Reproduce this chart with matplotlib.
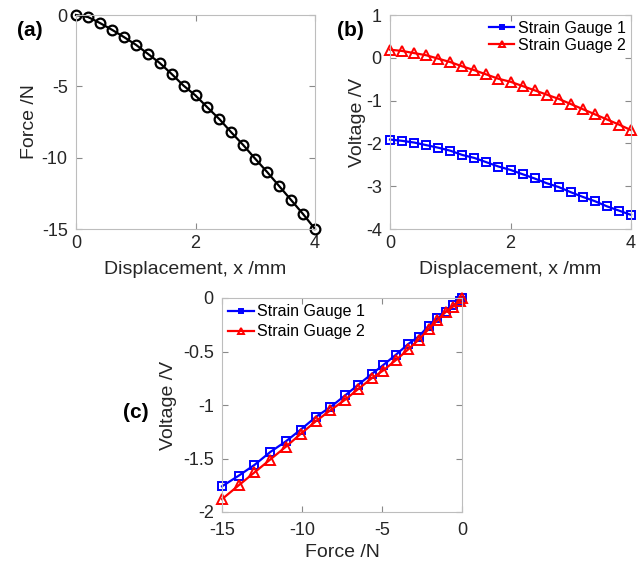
import matplotlib
matplotlib.use('Agg')
import matplotlib.pyplot as plt
import numpy as np

plt.rcParams['font.family'] = ['Liberation Sans', 'DejaVu Sans']
plt.rcParams['axes.unicode_minus'] = False

# displacement steps (mm)
disp = [0, 0.2, 0.4, 0.6, 0.8, 1.0, 1.2, 1.4, 1.6, 1.8, 2.0,
        2.2, 2.4, 2.6, 2.8, 3.0, 3.2, 3.4, 3.6, 3.8, 4.0]
# force (N)
force = [0, -0.14, -0.56, -1.03, -1.54, -2.08, -2.71, -3.36, -4.13, -4.95, -5.64,
         -6.48, -7.30, -8.23, -9.12, -10.08, -11.01, -11.99, -12.97, -13.95, -15.0]
# strain gauge voltages (V)
sg1 = [-1.91, -1.94, -1.98, -2.04, -2.10, -2.17, -2.27, -2.34, -2.44, -2.54, -2.62,
       -2.72, -2.82, -2.93, -3.02, -3.14, -3.25, -3.35, -3.47, -3.57, -3.67]
sg2 = [0.19, 0.16, 0.11, 0.06, -0.02, -0.10, -0.20, -0.29, -0.39, -0.49, -0.56,
       -0.66, -0.76, -0.86, -0.96, -1.08, -1.20, -1.32, -1.44, -1.56, -1.69]

# panel (c) uses voltage change from the unloaded reading
sg1_rel = np.array(sg1) - sg1[0]
sg2_rel = np.array(sg2) - sg2[0]

labels = ['Strain Gauge 1', 'Strain Guage 2']
txt = '#262626'
W, H = 640, 564

fig = plt.figure(figsize=(6.4, 5.64), dpi=100)

def box(l, t, r, b):
    return [l / W, 1 - b / H, (r - l) / W, (b - t) / H]

def style(ax, xpad=4):
    for s in ax.spines.values():
        s.set_color('#bdbdbd')
        s.set_linewidth(0.8)
    ax.tick_params(direction='in', top=True, right=True, length=4, width=0.8,
                   color='#8a8a8a', labelsize=13, labelcolor=txt)
    ax.tick_params(axis='y', pad=6)
    ax.tick_params(axis='x', pad=xpad)

axa = fig.add_axes(box(76, 15, 315, 229))
axa.plot(disp, force, '-o', color='k', lw=1.6, ms=7, mfc='none', mew=1.6, clip_on=False)
axa.set_xlim(0, 4)
axa.set_ylim(-15, 0)
axa.set_xticks([0, 2, 4])
axa.set_yticks([-15, -10, -5, 0])
axa.set_xlabel('Displacement, x /mm', fontsize=14, color=txt, labelpad=7)
axa.set_ylabel('Force /N', fontsize=14, color=txt, labelpad=3)
style(axa)
fig.text(30 / W, 1 - 31 / H, '(a)', fontsize=15, fontweight='bold', ha='center', va='center')

axb = fig.add_axes(box(390, 15, 631, 229))
axb.plot(disp, sg1, '-s', color='b', lw=1.6, ms=5.5, mfc='none', mew=1.4, clip_on=False, label=labels[0])
axb.plot(disp, sg2, '-^', color='r', lw=1.6, ms=7.5, mfc='none', mew=1.4, clip_on=False, label=labels[1])
axb.set_xlim(0, 4)
axb.set_ylim(-4, 1)
axb.set_xticks([0, 2, 4])
axb.set_yticks([-4, -3, -2, -1, 0, 1])
axb.set_xlabel('Displacement, x /mm', fontsize=14, color=txt, labelpad=7)
axb.set_ylabel('Voltage /V', fontsize=14, color=txt, labelpad=0)
style(axb)
axb.legend(loc='upper right', frameon=False, fontsize=11.5, markerscale=0.6,
           handlelength=1.6, handletextpad=0.2, labelspacing=0.15,
           borderaxespad=0.15, borderpad=0.2)
fig.text(350 / W, 1 - 31 / H, '(b)', fontsize=15, fontweight='bold', ha='center', va='center')

axc = fig.add_axes(box(222, 298, 462, 512))
axc.plot(force, sg1_rel, '-s', color='b', lw=1.6, ms=5.5, mfc='none', mew=1.4, clip_on=False, label=labels[0])
axc.plot(force, sg2_rel, '-^', color='r', lw=1.6, ms=7.5, mfc='none', mew=1.4, clip_on=False, label=labels[1])
axc.set_xlim(-15, 0)
axc.set_ylim(-2, 0)
axc.set_xticks([-15, -10, -5, 0])
axc.set_yticks([-2, -1.5, -1, -0.5, 0])
axc.set_yticklabels(['-2', '-1.5', '-1', '-0.5', '0'])
axc.set_xlabel('Force /N', fontsize=14, color=txt, labelpad=4)
axc.set_ylabel('Voltage /V', fontsize=14, color=txt, labelpad=4)
style(axc, xpad=7)
axc.legend(loc='upper left', frameon=False, fontsize=11.5, markerscale=0.6,
           handlelength=1.6, handletextpad=0.2, labelspacing=0.3,
           borderaxespad=0.2, borderpad=0.2)
fig.text(136 / W, 1 - 412 / H, '(c)', fontsize=15, fontweight='bold', ha='center', va='center')

fig.savefig('out.png', dpi=100)
